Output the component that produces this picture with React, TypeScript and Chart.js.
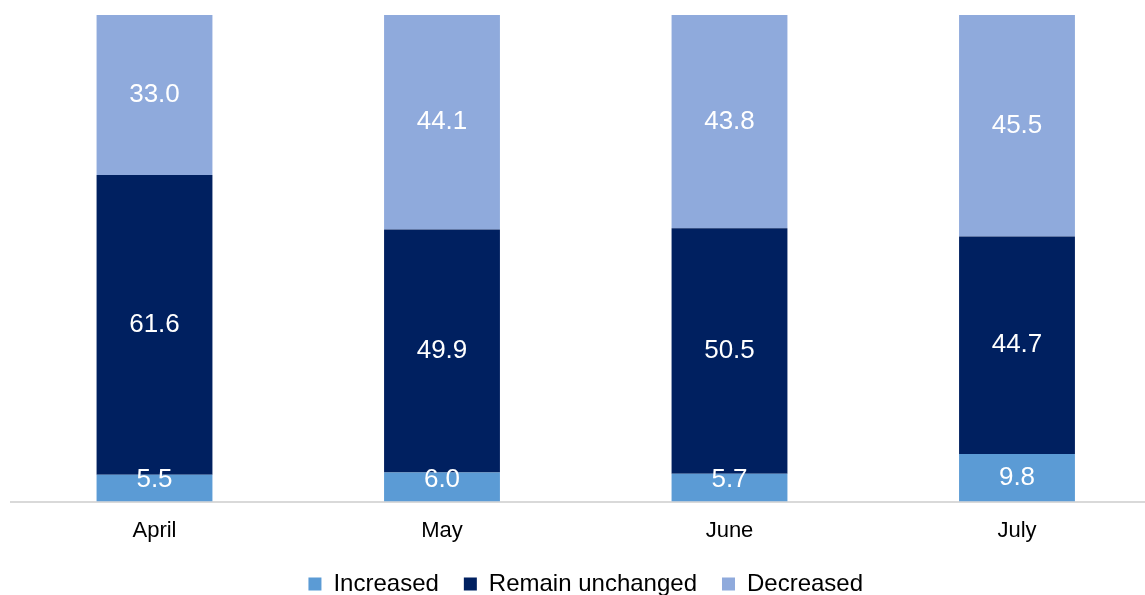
import React, { useEffect, useRef } from "react";
import { Chart, registerables } from "chart.js";

Chart.register(...registerables);

const categories = ["April", "May", "June", "July"];
const seriesNames = ["Increased", "Remain unchanged", "Decreased"];
const increased = [5.5, 6.0, 5.7, 9.8];
const unchanged = [61.6, 49.9, 50.5, 44.7];
const decreased = [33.0, 44.1, 43.8, 45.5];

const seriesColors = ["#5B9BD5", "#002060", "#8FAADC"];
const FONT = '"Liberation Sans", Arial, Helvetica, sans-serif';

const labelPlugin = {
  id: "barValueLabels",
  afterDatasetsDraw(chart: any) {
    const ctx = chart.ctx;
    const bottom = chart.chartArea.bottom;
    ctx.save();
    ctx.font = `26px ${FONT}`;
    ctx.fillStyle = "#FFFFFF";
    ctx.textAlign = "center";
    ctx.textBaseline = "middle";
    chart.data.datasets.forEach((ds: any, i: number) => {
      const meta = chart.getDatasetMeta(i);
      meta.data.forEach((bar: any, j: number) => {
        const p = bar.getProps(["x", "y", "base"], true);
        let cy = (p.y + p.base) / 2;
        cy = Math.min(cy, bottom - 22);
        ctx.fillText(Number(ds.data[j]).toFixed(1), p.x, cy);
      });
    });
    ctx.restore();
  },
};

export default function App() {
  const canvasRef = useRef<HTMLCanvasElement | null>(null);

  useEffect(() => {
    document.body.style.margin = "0";
    const canvas = canvasRef.current;
    if (!canvas) return;
    const values = [increased, unchanged, decreased];
    const chart = new Chart(canvas, {
      type: "bar",
      data: {
        labels: categories,
        datasets: seriesNames.map((name, i) => ({
          label: name,
          data: values[i],
          backgroundColor: seriesColors[i],
          borderWidth: 0,
          barPercentage: 0.403,
          categoryPercentage: 1,
        })),
      },
      options: {
        animation: false,
        responsive: true,
        maintainAspectRatio: false,
        layout: { padding: { left: 10.75, right: 18.25, top: 15, bottom: 0 } },
        plugins: {
          legend: {
            position: "bottom",
            labels: {
              boxWidth: 13,
              boxHeight: 13,
              padding: 25,
              color: "#000000",
              font: { family: FONT, size: 24 },
            },
          },
          tooltip: { enabled: false },
        },
        scales: {
          x: {
            stacked: true,
            grid: { display: false, drawTicks: false },
            border: { display: true, color: "#D9D9D9", width: 2 },
            ticks: {
              color: "#000000",
              padding: 16.5,
              font: { family: FONT, size: 22 },
            },
            afterFit(scale: any) {
              scale.height = scale.height - 14;
            },
          },
          y: {
            stacked: true,
            display: false,
            min: 0,
            max: 100,
          },
        },
      },
      plugins: [labelPlugin],
    });
    return () => chart.destroy();
  }, []);

  return (
    <div style={{ width: 1145, height: 595, overflow: "hidden", position: "relative" }}>
      <div style={{ width: 1179, height: 606, position: "absolute", left: 0, top: 0 }}>
        <canvas ref={canvasRef} />
      </div>
    </div>
  );
}
